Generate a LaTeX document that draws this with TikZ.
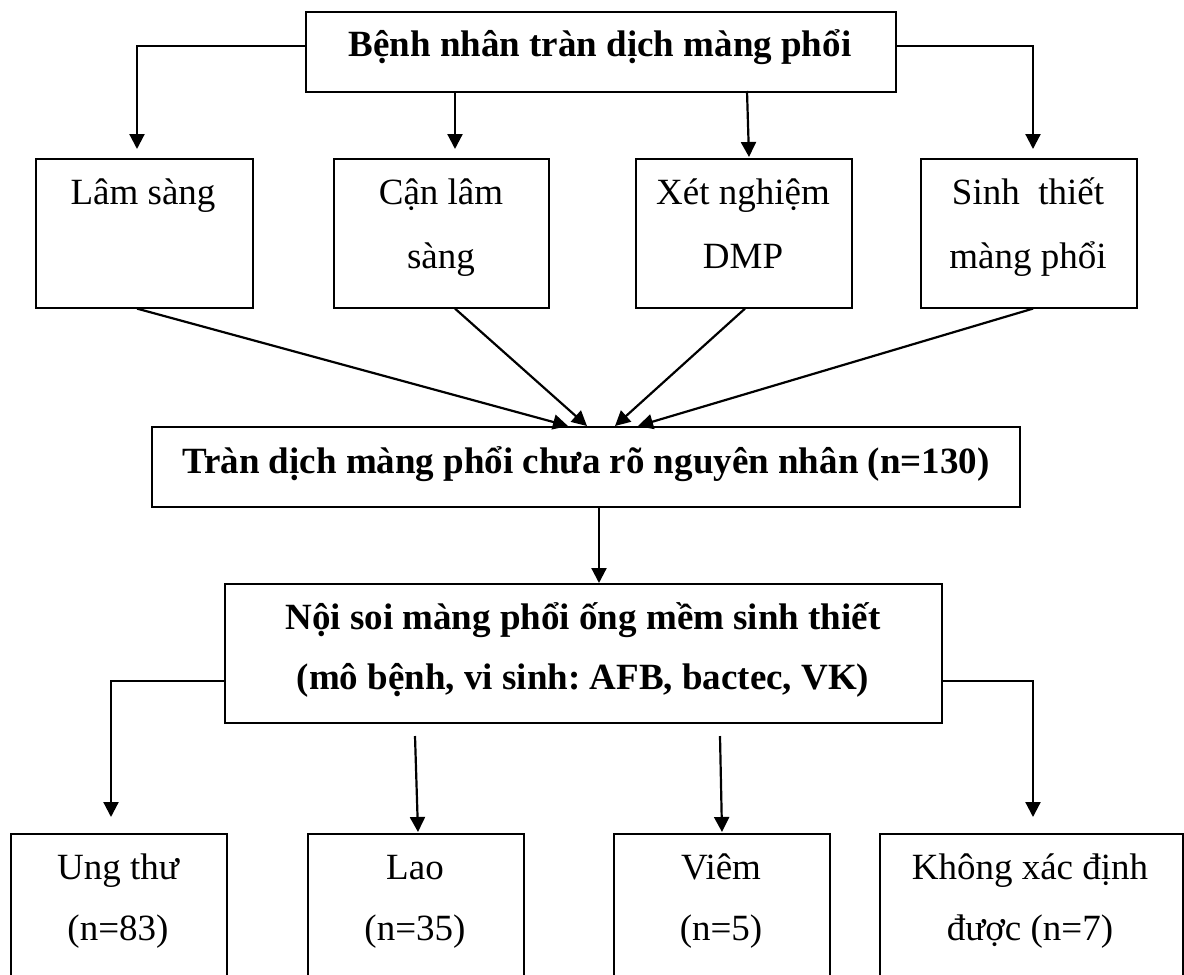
\documentclass[tikz,border=0pt]{standalone}
\usepackage{fontspec}
\setmainfont{Liberation Serif}
\usetikzlibrary{arrows.meta}
\frenchspacing
\begin{document}
\begin{tikzpicture}[x=1pt,y=-1pt,
  box/.style={draw,line width=1.6pt,inner sep=0pt,anchor=north west},
  txt/.style={anchor=base,inner sep=0pt,font=\fontsize{37}{44}\selectfont},
  btxt/.style={txt,font=\fontsize{37}{44}\selectfont\bfseries},
  arr/.style={line width=2.2pt,-{Triangle[length=15pt,width=15pt]}}]
\useasboundingbox (0,0) rectangle (1184,975);
\clip (0,0) rectangle (1184,975);

% top box
\node[box,minimum width=590pt,minimum height=80pt] (top) at (305,11) {};
\node[btxt] (ttop) at (600,56) {Bệnh nhân tràn dịch màng phổi};

% first row of boxes
\node[box,minimum width=217pt,minimum height=149pt] (b1) at (35,158) {};
\node[box,minimum width=215pt,minimum height=149pt] (b2) at (333,158) {};
\node[box,minimum width=216pt,minimum height=149pt] (b3) at (635,158) {};
\node[box,minimum width=216pt,minimum height=149pt] (b4) at (920,158) {};
\node[txt] (t1) at (143,204) {Lâm sàng};
\node[txt] (t2a) at (441,204) {Cận lâm};
\node[txt] (t2b) at (441,268) {sàng};
\node[txt] (t3a) at (743,204) {Xét nghiệm};
\node[txt] (t3b) at (743,268) {DMP};
\node[txt] (t4a) at (1028,204) {Sinh\ \ thiết};
\node[txt] (t4b) at (1028,268) {màng phổi};

% middle box
\node[box,minimum width=868pt,minimum height=80pt] (mid) at (151,426) {};
\node[btxt] (tmid) at (586,473) {Tràn dịch màng phổi chưa rõ nguyên nhân (n=130)};

% endoscopy box
\node[box,minimum width=717pt,minimum height=139pt] (ns) at (224,583) {};
\node[btxt] (tns1) at (583,629) {Nội soi màng phổi ống mềm sinh thiết};
\node[btxt] (tns2) at (583,689) {(mô bệnh, vi sinh: AFB, bactec, VK)};

% result boxes
\node[box,minimum width=216pt,minimum height=160pt] (r1) at (10,833) {};
\node[box,minimum width=216pt,minimum height=160pt] (r2) at (307,833) {};
\node[box,minimum width=216pt,minimum height=160pt] (r3) at (613,833) {};
\node[box,minimum width=303pt,minimum height=160pt] (r4) at (879,833) {};
\node[txt] (u1a) at (118,879) {Ung thư};
\node[txt] (u1b) at (118,940) {(n=83)};
\node[txt] (u2a) at (415,879) {Lao};
\node[txt] (u2b) at (415,940) {(n=35)};
\node[txt] (u3a) at (721,879) {Viêm};
\node[txt] (u3b) at (721,940) {(n=5)};
\node[txt] (u4a) at (1030,879) {Không xác định};
\node[txt] (u4b) at (1030,940) {được (n=7)};

% arrow end points
\coordinate (e1) at (137,149);
\coordinate (e2) at (455,149);
\coordinate (e4) at (1033,149);
\coordinate (s3) at (747,91);
\coordinate (e3) at (749,157);

\draw[arr] (top.west |- 0,46) -| (e1);
\draw[arr] (top.south -| e2) -- (e2);
\draw[arr] (s3) -- (e3);
\draw[arr] (top.east |- 0,46) -| (e4);

% converging arrows
\coordinate (m1) at (568,426);
\coordinate (m2) at (587,426);
\coordinate (m3) at (615,426);
\coordinate (m4) at (638,426);
\draw[arr] (b1.south -| 137,0) -- (m1);
\draw[arr] (b2.south -| 455,0) -- (m2);
\draw[arr] (b3.south -| 745,0) -- (m3);
\draw[arr] (b4.south -| 1033,0) -- (m4);

\draw[arr] (mid.south -| 599,0) -- (ns.north -| 599,0);

% branching to results
\coordinate (f1) at (111,817);
\coordinate (f4) at (1033,817);
\coordinate (g2) at (415,736);
\coordinate (h2) at (418,832);
\coordinate (g3) at (720,736);
\coordinate (h3) at (722,832);
\draw[arr] (ns.west |- 0,681) -| (f1);
\draw[arr] (g2) -- (h2);
\draw[arr] (g3) -- (h3);
\draw[arr] (ns.east |- 0,681) -| (f4);
\end{tikzpicture}
\end{document}
